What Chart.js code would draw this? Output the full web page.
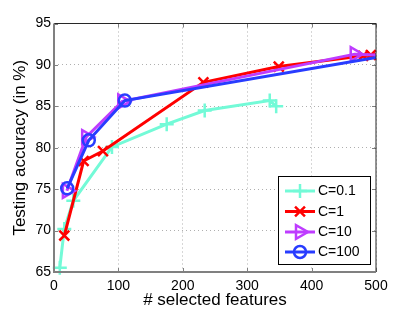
<!DOCTYPE html>
<html>
<head>
<meta charset="utf-8">
<script src="https://cdn.jsdelivr.net/npm/chart.js@4.4.0/dist/chart.umd.min.js"></script>
<style>
html,body{margin:0;padding:0;background:#fff;}
#wrap{width:415px;height:312px;position:relative;}
</style>
</head>
<body>
<div id="wrap"><canvas id="c" width="415" height="312"></canvas></div>
<script>
// ---- data ----
const seriesNames = ['C=0.1', 'C=1', 'C=10', 'C=100'];
const c01X = [9, 16, 30, 90, 175, 234, 335, 345];
const c01Y = [65.5, 70.2, 73.6, 80.1, 82.85, 84.5, 85.7, 85.0];
const c1X = [16, 46, 76, 232, 349, 480, 492, 500];
const c1Y = [69.4, 78.4, 79.6, 87.9, 89.8, 91.1, 91.2, 91.25];
const c10X = [20, 50, 106, 467, 500];
const c10Y = [74.8, 81.3, 85.6, 91.3, 91.2];
const c100X = [20.5, 54, 110, 500];
const c100Y = [75.1, 80.9, 85.7, 90.9];
const xTicks = [0, 100, 200, 300, 400, 500];
const yTicks = [65, 70, 75, 80, 85, 90, 95];

const FONT = '"Liberation Sans", Arial, Helvetica, sans-serif';
const cols = ['rgb(115,250,215)', 'rgb(255,0,0)', 'rgb(190,60,255)', 'rgb(40,60,255)'];
const styles = [
  {pointStyle: 'cross', radius: 7, rotation: 0},
  {pointStyle: 'crossRot', radius: 7, rotation: 0},
  {pointStyle: 'triangle', radius: 8, rotation: 90},
  {pointStyle: 'circle', radius: 6, rotation: 0}
];
const xs = [c01X, c1X, c10X, c100X];
const ys = [c01Y, c1Y, c10Y, c100Y];

function pts(X, Y) { return X.map((x, i) => ({x: x, y: Y[i]})); }

const datasets = seriesNames.map((name, k) => {
  const radii = xs[k].map((x) => (x >= 500 ? 0 : styles[k].radius));
  return {
    label: name,
    data: pts(xs[k], ys[k]),
    borderColor: cols[k],
    backgroundColor: 'rgba(0,0,0,0)',
    borderWidth: 3,
    pointStyle: styles[k].pointStyle,
    pointRotation: styles[k].rotation,
    pointRadius: radii,
    pointHoverRadius: radii,
    pointBorderWidth: 2.5,
    pointBorderColor: cols[k],
    pointBackgroundColor: 'rgba(0,0,0,0)',
    tension: 0,
    fill: false,
    clip: false,
    order: 4 - k
  };
});

const framePlugin = {
  id: 'frame',
  afterDatasetsDraw(chart) {
    const {ctx, chartArea: a} = chart;
    const xS = chart.scales.x, yS = chart.scales.y;
    ctx.save();
    // inward tick marks
    ctx.strokeStyle = 'rgb(128,128,128)';
    ctx.lineWidth = 1;
    ctx.beginPath();
    yTicks.forEach(v => {
      const y = Math.round(yS.getPixelForValue(v)) + 0.5;
      ctx.moveTo(a.left, y); ctx.lineTo(a.left + 4, y);
      ctx.moveTo(a.right, y); ctx.lineTo(a.right - 4, y);
    });
    xTicks.forEach(v => {
      const x = Math.round(xS.getPixelForValue(v)) + 0.5;
      ctx.moveTo(x, a.bottom); ctx.lineTo(x, a.bottom - 4);
      ctx.moveTo(x, a.top); ctx.lineTo(x, a.top + 4);
    });
    ctx.stroke();
    // top and right lines
    ctx.strokeStyle = 'rgb(40,40,40)';
    ctx.lineWidth = 1;
    ctx.beginPath();
    ctx.moveTo(a.left, a.top); ctx.lineTo(a.right, a.top); ctx.lineTo(a.right, a.bottom);
    ctx.stroke();
    // left and bottom axes (gray)
    ctx.strokeStyle = 'rgb(128,128,128)';
    ctx.lineWidth = 2;
    ctx.beginPath();
    ctx.moveTo(a.left, a.top); ctx.lineTo(a.left, a.bottom); ctx.lineTo(a.right, a.bottom);
    ctx.stroke();

    // legend box
    const bx = 278.5, by = 176.5, bw = 92, bh = 88;
    ctx.fillStyle = '#fff';
    ctx.fillRect(bx, by, bw, bh);
    ctx.strokeStyle = '#000';
    ctx.lineWidth = 1;
    ctx.strokeRect(bx, by, bw, bh);
    const rowY = [191, 211.5, 232, 252];
    ctx.font = '14px ' + FONT;
    ctx.textBaseline = 'middle';
    ctx.textAlign = 'left';
    seriesNames.forEach((name, k) => {
      const y = rowY[k];
      ctx.strokeStyle = cols[k];
      ctx.lineWidth = 3;
      ctx.beginPath();
      ctx.moveTo(285, y); ctx.lineTo(315, y);
      ctx.stroke();
      ctx.strokeStyle = cols[k];
      ctx.fillStyle = 'rgba(0,0,0,0)';
      ctx.lineWidth = 2.5;
      Chart.helpers.drawPoint(ctx, {
        pointStyle: styles[k].pointStyle,
        rotation: styles[k].rotation,
        radius: styles[k].radius,
        borderWidth: 2.5
      }, 300, y);
      ctx.fillStyle = '#000';
      ctx.fillText(name, 318, y + 0.5);
    });
    ctx.restore();
  }
};

new Chart(document.getElementById('c'), {
  type: 'line',
  data: {datasets: datasets},
  options: {
    responsive: false,
    animation: false,
    devicePixelRatio: 1,
    layout: {padding: {left: 0, right: 39, top: 23.5, bottom: 0}},
    plugins: {legend: {display: false}, tooltip: {enabled: false}},
    scales: {
      x: {
        type: 'linear',
        min: 0, max: 500,
        afterFit(s) { s.height = 40; },
        afterBuildTicks(s) { s.ticks = xTicks.map(v => ({value: v})); },
        ticks: {
          color: '#000',
          font: {family: FONT, size: 14},
          padding: 6,
          maxRotation: 0,
          callback: v => String(v)
        },
        grid: {color: 'rgb(175,175,175)', lineWidth: 1, drawTicks: false},
        border: {display: false, dash: [1, 3]},
        title: {
          display: true,
          text: '# selected features',
          color: '#000',
          font: {family: FONT, size: 17},
          padding: {top: 0, bottom: 1}
        }
      },
      y: {
        type: 'linear',
        min: 65, max: 95,
        afterFit(s) { s.width = 54; },
        afterBuildTicks(s) { s.ticks = yTicks.map(v => ({value: v})); },
        ticks: {
          color: '#000',
          font: {family: FONT, size: 14},
          padding: 3,
          callback: v => String(v)
        },
        grid: {color: 'rgb(175,175,175)', lineWidth: 1, drawTicks: false},
        border: {display: false, dash: [1, 3]},
        title: {
          display: true,
          text: 'Testing accuracy (in %)',
          color: '#000',
          font: {family: FONT, size: 17},
          padding: {top: 10, bottom: 0}
        }
      }
    }
  },
  plugins: [framePlugin]
});
</script>
</body>
</html>
